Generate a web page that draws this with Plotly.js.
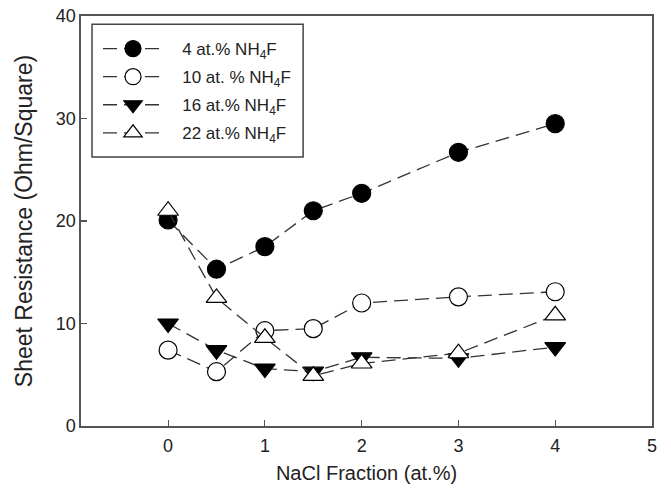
<!DOCTYPE html>
<html>
<head>
<meta charset="utf-8">
<script src="https://cdn.plot.ly/plotly-3.0.1.min.js"></script>
<style>
html,body{margin:0;padding:0;background:#fff;}
#chart{width:671px;height:496px;}
</style>
</head>
<body>
<div id="chart"></div>
<script>
const naclFraction = [0, 0.5, 1, 1.5, 2, 3, 4];
const seriesNames = ["4 at.% NH<sub>4</sub>F", "10 at. % NH<sub>4</sub>F", "16 at.% NH<sub>4</sub>F", "22 at.% NH<sub>4</sub>F"];
const r4 = [20.1, 15.3, 17.5, 21.0, 22.7, 26.7, 29.5];
const r10 = [7.4, 5.3, 9.3, 9.5, 12.0, 12.6, 13.1];
const r16 = [10.0, 7.4, 5.6, 5.3, 6.7, 6.6, 7.7];
const r22 = [21.0, 12.5, 8.6, 4.9, 6.1, 7.1, 10.8];
const xTicks = [0, 1, 2, 3, 4, 5];
const yTicks = [0, 10, 20, 30, 40];

const symbols = ["circle", "circle", "triangle-down", "triangle-up"];
const fills = ["#000", "#fff", "#000", "#fff"];
const allY = [r4, r10, r16, r22];
const pad = "\u00a0\u00a0\u00a0";

const traces = allY.map((y, i) => ({
  x: naclFraction, y: y, name: pad + seriesNames[i], legendgroup: "g" + i,
  type: "scatter", mode: "lines+markers",
  line: {color: "#333", width: 1.3, dash: "14px,7px"},
  marker: {symbol: symbols[i], size: 18, color: fills[i], line: {color: "#000", width: 1.2}}
}));

const fontFam = "Liberation Sans, Arial, sans-serif";
const axisCommon = {
  showline: true, linecolor: "#555", linewidth: 1.6, mirror: true,
  ticks: "inside", ticklen: 6, tickwidth: 1.2, tickcolor: "#555",
  showgrid: false, zeroline: false,
  tickfont: {family: fontFam, size: 18, color: "#222"}
};

const layout = {
  width: 671, height: 496,
  margin: {l: 81, r: 19, t: 16, b: 70},
  paper_bgcolor: "#fff", plot_bgcolor: "#fff",
  font: {family: fontFam, color: "#222"},
  showlegend: true,
  legend: {
    x: 0.0298, y: 0.9634, xanchor: "left", yanchor: "top",
    borderwidth: 0, bgcolor: "rgba(0,0,0,0)",
    font: {size: 17, color: "#222"}, itemwidth: 60, tracegroupgap: 3
  },
  shapes: [{
    type: "rect", xref: "paper", yref: "paper",
    x0: 0.0193, x1: 0.389, y0: 0.656, y1: 0.980,
    line: {color: "#444", width: 1.5}, fillcolor: "rgba(0,0,0,0)", layer: "above"
  }],
  xaxis: Object.assign({}, axisCommon, {
    range: [-0.9, 5], tickvals: xTicks, ticklabelstandoff: 3,
    title: {text: "NaCl Fraction (at.%)", font: {size: 20, color: "#222"}, standoff: 11}
  }),
  yaxis: Object.assign({}, axisCommon, {
    range: [0, 40], tickvals: yTicks,
    title: {text: "Sheet Resistance (Ohm/Square)", font: {size: 23, color: "#222"}, standoff: 17}
  })
};

Plotly.newPlot("chart", traces, layout, {displayModeBar: false, staticPlot: true});
</script>
</body>
</html>
